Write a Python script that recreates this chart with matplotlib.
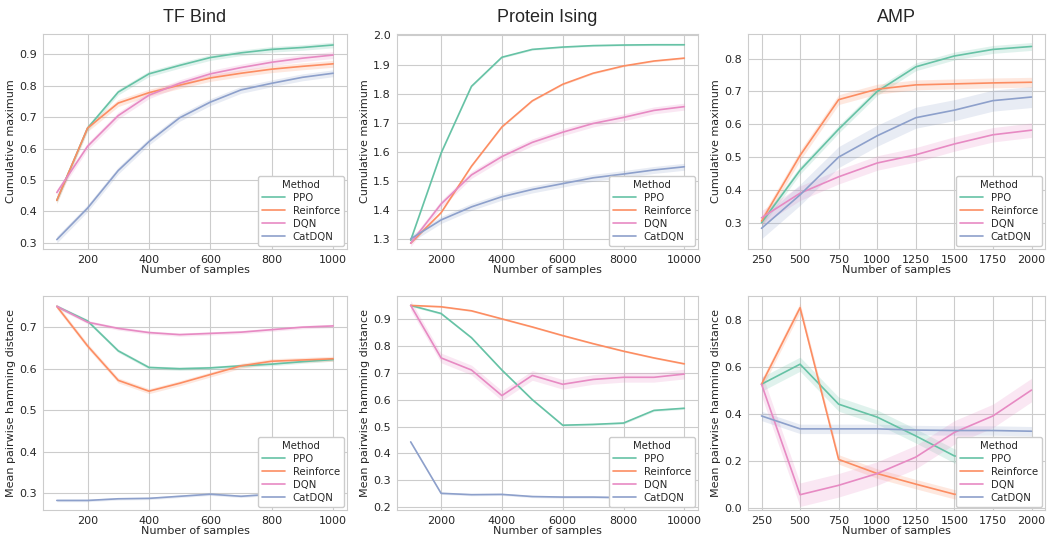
import matplotlib
matplotlib.use('Agg')
import numpy as np
import matplotlib.pyplot as plt
import seaborn as sns

sns.set_style('whitegrid')
plt.rcParams['font.family'] = ['DejaVu Sans']

methods = ['PPO', 'Reinforce', 'DQN', 'CatDQN']
colors = sns.color_palette('Set2', 8)
method_colors = {'PPO': colors[0], 'Reinforce': colors[1], 'DQN': colors[3], 'CatDQN': colors[2]}

tf_x = [100, 200, 300, 400, 500, 600, 700, 800, 900, 1000]
ising_x = [1000, 2000, 3000, 4000, 5000, 6000, 7000, 8000, 9000, 10000]
amp_x = [250, 500, 750, 1000, 1250, 1500, 1750, 2000]

# cumulative maximum
tf_max = {
    'PPO': [0.435, 0.665, 0.78, 0.838, 0.865, 0.89, 0.905, 0.916, 0.922, 0.93],
    'Reinforce': [0.435, 0.665, 0.745, 0.778, 0.802, 0.825, 0.84, 0.853, 0.862, 0.87],
    'DQN': [0.46, 0.607, 0.705, 0.77, 0.808, 0.838, 0.858, 0.875, 0.888, 0.898],
    'CatDQN': [0.31, 0.41, 0.53, 0.622, 0.698, 0.748, 0.787, 0.808, 0.827, 0.84],
}
tf_max_err = {'PPO': 0.009, 'Reinforce': 0.011, 'DQN': 0.011, 'CatDQN': 0.011}

ising_max = {
    'PPO': [1.295, 1.595, 1.825, 1.925, 1.952, 1.96, 1.965, 1.967, 1.968, 1.968],
    'Reinforce': [1.285, 1.39, 1.55, 1.685, 1.775, 1.832, 1.87, 1.895, 1.912, 1.922],
    'DQN': [1.285, 1.42, 1.52, 1.583, 1.632, 1.667, 1.697, 1.718, 1.742, 1.755],
    'CatDQN': [1.3, 1.365, 1.41, 1.445, 1.47, 1.49, 1.51, 1.523, 1.537, 1.548],
}
ising_max_err = {'PPO': 0.003, 'Reinforce': 0.003, 'DQN': 0.012, 'CatDQN': 0.012}

amp_max = {
    'PPO': [0.30, 0.46, 0.585, 0.70, 0.775, 0.808, 0.828, 0.837],
    'Reinforce': [0.305, 0.505, 0.675, 0.707, 0.72, 0.723, 0.726, 0.728],
    'DQN': [0.315, 0.39, 0.44, 0.482, 0.507, 0.54, 0.568, 0.582],
    'CatDQN': [0.283, 0.385, 0.5, 0.565, 0.62, 0.643, 0.672, 0.683],
}
amp_max_err = {'PPO': 0.012, 'Reinforce': 0.015, 'DQN': 0.022, 'CatDQN': 0.032}

# mean pairwise hamming distance
tf_ham = {
    'PPO': [0.75, 0.715, 0.643, 0.603, 0.6, 0.602, 0.607, 0.611, 0.617, 0.622],
    'Reinforce': [0.75, 0.655, 0.572, 0.546, 0.565, 0.586, 0.607, 0.618, 0.621, 0.624],
    'DQN': [0.75, 0.712, 0.697, 0.687, 0.682, 0.685, 0.688, 0.694, 0.7, 0.703],
    'CatDQN': [0.283, 0.283, 0.287, 0.288, 0.293, 0.298, 0.293, 0.298, 0.300, 0.301],
}
tf_ham_err = {'PPO': 0.004, 'Reinforce': 0.006, 'DQN': 0.004, 'CatDQN': 0.003}

ising_ham = {
    'PPO': [0.95, 0.92, 0.83, 0.71, 0.6, 0.505, 0.508, 0.513, 0.56, 0.568],
    'Reinforce': [0.95, 0.945, 0.93, 0.90, 0.87, 0.838, 0.808, 0.78, 0.755, 0.733],
    'DQN': [0.95, 0.755, 0.71, 0.615, 0.69, 0.657, 0.675, 0.683, 0.683, 0.695],
    'CatDQN': [0.443, 0.252, 0.247, 0.248, 0.24, 0.238, 0.238, 0.236, 0.233, 0.23],
}
ising_ham_err = {'PPO': 0.004, 'Reinforce': 0.003, 'DQN': 0.018, 'CatDQN': 0.004}

amp_ham = {
    'PPO': [0.525, 0.61, 0.44, 0.385, 0.305, 0.22, 0.2, 0.18],
    'Reinforce': [0.525, 0.85, 0.205, 0.145, 0.1, 0.057, 0.05, 0.04],
    'DQN': [0.525, 0.055, 0.095, 0.145, 0.215, 0.32, 0.39, 0.5],
    'CatDQN': [0.39, 0.335, 0.335, 0.335, 0.33, 0.328, 0.328, 0.325],
}
amp_ham_err = {'PPO': 0.03, 'Reinforce': 0.02, 'DQN': 0.05, 'CatDQN': 0.02}

panels = [
    (tf_x, tf_max, tf_max_err, 'TF Bind', 'Cumulative maximum', [0.3, 0.4, 0.5, 0.6, 0.7, 0.8, 0.9], [200, 400, 600, 800, 1000]),
    (ising_x, ising_max, ising_max_err, 'Protein Ising', 'Cumulative maximum', [1.3, 1.4, 1.5, 1.6, 1.7, 1.8, 1.9, 2.0], [2000, 4000, 6000, 8000, 10000]),
    (amp_x, amp_max, amp_max_err, 'AMP', 'Cumulative maximum', [0.3, 0.4, 0.5, 0.6, 0.7, 0.8], amp_x),
    (tf_x, tf_ham, tf_ham_err, None, 'Mean pairwise hamming distance', [0.3, 0.4, 0.5, 0.6, 0.7], [200, 400, 600, 800, 1000]),
    (ising_x, ising_ham, ising_ham_err, None, 'Mean pairwise hamming distance', [0.2, 0.3, 0.4, 0.5, 0.6, 0.7, 0.8, 0.9], [2000, 4000, 6000, 8000, 10000]),
    (amp_x, amp_ham, amp_ham_err, None, 'Mean pairwise hamming distance', [0.0, 0.2, 0.4, 0.6, 0.8], amp_x),
]

fig = plt.figure(figsize=(10.48, 5.35), dpi=100)
W, H = 1048, 535
lefts = [43, 397, 748]
rights = [347, 698, 1045]
tops = [34, 296]
bottoms = [249, 510]

for i, (x, data, err, title, ylabel, yticks, xticks) in enumerate(panels):
    r, c = divmod(i, 3)
    ax = fig.add_axes([lefts[c] / W, 1 - bottoms[r] / H,
                       (rights[c] - lefts[c]) / W, (bottoms[r] - tops[r]) / H])
    for m in methods:
        y = np.array(data[m])
        col = method_colors[m]
        ax.fill_between(x, y - err[m], y + err[m], color=col, alpha=0.2, lw=0)
        ax.plot(x, y, color=col, lw=1.2, label=m)
    ax.set_yticks(yticks)
    ax.set_xticks(xticks)
    ax.tick_params(labelsize=8, pad=1)
    ax.set_xlabel('Number of samples', fontsize=8, labelpad=0)
    ax.set_ylabel(ylabel, fontsize=8, labelpad=2)
    if title:
        ax.set_title(title, fontsize=13, pad=9, family=['Liberation Sans', 'DejaVu Sans'])
    for s in ax.spines.values():
        s.set_color('#cccccc')
    leg = ax.legend(title='Method', loc='lower right', fontsize=7.3, title_fontsize=7.3,
                    handlelength=2.2, borderaxespad=0.3, labelspacing=0.3, framealpha=1)
    leg.get_frame().set_edgecolor('#cccccc')

fig.axes[0].set_ylim(0.28, 0.965)
fig.axes[1].set_ylim(1.265, 2.005)
fig.axes[2].set_ylim(0.22, 0.875)
fig.axes[3].set_ylim(0.26, 0.775)
fig.axes[4].set_ylim(0.19, 0.985)
fig.axes[5].set_ylim(-0.01, 0.9)

fig.savefig('out.png', dpi=100)
